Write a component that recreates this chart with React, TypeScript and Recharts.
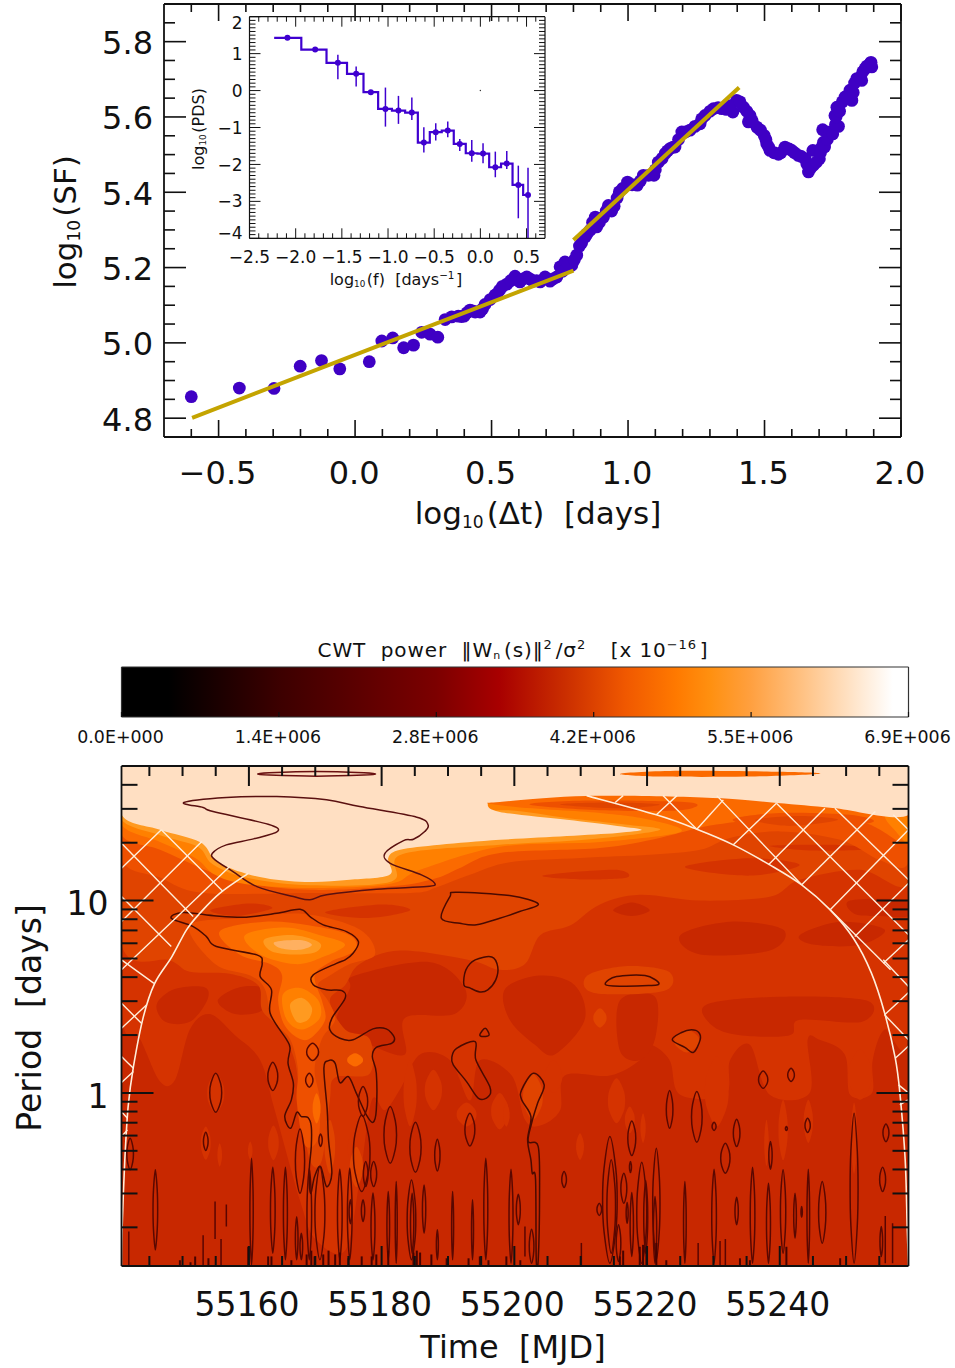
import { ScatterChart, Scatter, XAxis, YAxis, ComposedChart, Line, ErrorBar, ReferenceDot, BarChart, Bar } from 'recharts';

const FONT = '"DejaVu Sans", sans-serif';
const INK = '#111';

// structure function (top panel)
const SF_X = [-0.6, -0.424, -0.297, -0.201, -0.123, -0.056, 0.052, 0.098, 0.138, 0.178, 0.214, 0.244, 0.275, 0.303, 0.33, 0.354, 0.378, 0.399, 0.421, 0.44, 0.458, 0.476, 0.513, 0.529, 0.556, 0.586, 0.604, 0.629, 0.652, 0.678, 0.696, 0.714, 0.739, 0.751, 0.769, 0.794, 0.812, 0.822, 0.843, 0.861, 0.88, 0.885, 0.91, 0.928, 0.949, 0.968, 0.998, 1.034, 1.056, 1.095, 1.111, 1.136, 1.154, 1.172, 1.197, 1.227, 1.264, 1.282, 1.313, 1.343, 1.384, 1.398, 1.423, 1.447, 1.441, 1.472, 1.499, 1.508, 1.52, 1.551, 1.575, 1.6, 1.624, 1.649, 1.661, 1.679, 1.701, 1.677, 1.71, 1.716, 1.713, 1.74, 1.771, 1.758, 1.765, 1.795, 1.82, 1.813, 1.838, 1.856, 1.868, 1.887, 1.893];
const SF_Y = [4.857, 4.88, 4.879, 4.938, 4.953, 4.931, 4.95, 5.005, 5.013, 4.987, 4.994, 5.028, 5.023, 5.015, 5.062, 5.069, 5.071, 5.071, 5.087, 5.082, 5.082, 5.102, 5.127, 5.14, 5.156, 5.177, 5.162, 5.175, 5.164, 5.162, 5.175, 5.164, 5.175, 5.202, 5.215, 5.206, 5.233, 5.257, 5.281, 5.299, 5.334, 5.308, 5.334, 5.365, 5.363, 5.401, 5.427, 5.419, 5.445, 5.445, 5.48, 5.503, 5.516, 5.52, 5.56, 5.565, 5.582, 5.604, 5.622, 5.622, 5.613, 5.644, 5.626, 5.604, 5.587, 5.573, 5.551, 5.529, 5.511, 5.501, 5.52, 5.511, 5.498, 5.489, 5.454, 5.472, 5.489, 5.511, 5.52, 5.533, 5.566, 5.56, 5.575, 5.604, 5.626, 5.653, 5.644, 5.671, 5.702, 5.697, 5.728, 5.742, 5.733];
// denser part of the same ribbon
const SF_DENSE_X = [0.39, 0.41, 0.43, 0.45, 0.467, 0.495, 0.52, 0.54, 0.57, 0.615, 0.64, 0.665, 0.725, 0.76, 0.78, 0.803, 0.83, 0.85, 0.87, 0.895, 0.92, 0.94, 0.96, 0.98, 1.015, 1.045, 1.075, 1.1, 1.125, 1.145, 1.165, 1.185, 1.21, 1.245, 1.27, 1.3, 1.33, 1.36, 1.375, 1.41, 1.435, 1.455, 1.485, 1.505, 1.515, 1.535, 1.56, 1.59, 1.61, 1.635, 1.655, 1.67, 1.69, 1.705, 1.72, 1.73, 1.75, 1.76, 1.762, 1.775, 1.785, 1.805, 1.825, 1.83, 1.85, 1.86, 1.875, 1.885, 1.89];
const SF_DENSE_Y = [5.07, 5.08, 5.085, 5.083, 5.09, 5.115, 5.13, 5.15, 5.165, 5.17, 5.17, 5.165, 5.17, 5.19, 5.21, 5.22, 5.265, 5.29, 5.32, 5.32, 5.35, 5.35, 5.385, 5.41, 5.42, 5.43, 5.445, 5.46, 5.49, 5.51, 5.52, 5.54, 5.56, 5.575, 5.595, 5.615, 5.625, 5.62, 5.63, 5.64, 5.615, 5.59, 5.565, 5.54, 5.52, 5.505, 5.505, 5.515, 5.505, 5.495, 5.475, 5.465, 5.48, 5.505, 5.52, 5.54, 5.555, 5.58, 5.6, 5.615, 5.64, 5.65, 5.665, 5.69, 5.705, 5.72, 5.735, 5.735, 5.745];
const FIT_LOW = [[-0.597, 4.801], [0.8, 5.192]];
const FIT_HIGH = [[0.8, 5.273], [1.407, 5.678]];

// inset power spectrum
const PDS_X = [-2.233, -2.089, -1.789, -1.543, -1.345, -1.186, -1.028, -0.887, -0.742, -0.612, -0.483, -0.353, -0.223, -0.093, 0.029, 0.162, 0.286, 0.411, 0.516];
const PDS_Y = [1.428, 1.428, 1.111, 0.751, 0.453, -0.043, -0.496, -0.542, -0.596, -1.409, -1.127, -1.084, -1.444, -1.697, -1.707, -2.076, -1.978, -2.556, -2.827];
const PDS_ERR_DOWN = [0, 0, 0, 0.442, 0.345, 0, 0.48, 0.36, 0.198, 0.271, 0.228, 0.179, 0.19, 0.227, 0.26, 0.271, 0.144, 0.902, 1.173];
const PDS_ERR_UP = [0, 0, 0, 0.216, 0.197, 0, 0.577, 0.398, 0.406, 0.417, 0.244, 0.244, 0.135, 0.361, 0.281, 0.423, 0.344, 0.523, 0.74];

// colour bar
const BAR_TICKS = [0, 1.38, 2.76, 4.14, 5.52, 6.9];
const BAR_LABELS = ['0.0E+000', '1.4E+006', '2.8E+006', '4.2E+006', '5.5E+006', '6.9E+006'];
const BAR_STOPS: [number, string][] = [[0, '#000'], [0.06, '#000'], [0.2, '#3c0000'], [0.4, '#7c0000'], [0.48, '#a80000'], [0.567, '#cc3000'], [0.64, '#f05800'], [0.706, '#ff7a00'], [0.748, '#ff9010'], [0.8, '#ffa040'], [0.862, '#ffc080'], [0.948, '#ffeedd'], [0.98, '#fff'], [1, '#fff']];

// wavelet panel: t = MJD - 55100, l = log10(period)
const C0 = '#c82800';
const C1 = '#d53300';
const C2 = '#e04400';
const C3 = '#ee5000';
const C4 = '#fb6a00';
const C5 = '#ff8000';
const C6 = '#ff9a20';
const C7 = '#ffb060';
const PALE = '#ffdfc2';

type Pt = number[];
const FLOOR: Pt[] = [[40.8, -0.9], [159.4, -0.9], [159.4, 1.7], [40.8, 1.7]];
const BODY_C1: Pt[] = [[40.8, 1.6], [159.4, 1.6], [159.4, 0.3], [155.8, 0.33], [154, 0.17], [153.9, 0], [150.6, -0.01], [149.8, 0.2], [146, 0.276], [144.2, 0.276], [144.5, 0], [138.5, -0.01], [135.5, 0.25], [132.5, 0.17], [131.8, -0.01], [125, -0.01], [123.4, 0.17], [120.4, 0.25], [118.9, 0.17], [114.4, 0.09], [107.6, 0.09], [106.9, -0.09], [103.9, -0.17], [101.6, -0.14], [99.6, 0.09], [94.8, 0.17], [93.3, -0.04], [90.3, 0.17], [85.8, 0.2], [82.8, 0.02], [80.5, -0.09], [78.5, -0.04], [76.7, -0.45], [74.5, -0.82], [70, -0.76], [67.7, -0.56], [63.9, -0.09], [61.7, 0.17], [57.9, 0.3], [54.1, 0.41], [51.1, 0.33], [48.9, 0.07], [46.6, 0.06], [43.6, 0.28], [40.8, 0.43]];
const DEEP_BLOBS: Pt[][] = [
  [[46.1, 0.46], [48.8, 0.54], [53.3, 0.55], [53.7, 0.48], [51.1, 0.37], [47.4, 0.37]],
  [[55.3, 0.48], [58.6, 0.55], [62.4, 0.54], [62, 0.43], [57.9, 0.41]],
  [[76, 0.61], [87.3, 0.68], [92.6, 0.54], [91, 0.41], [83.5, 0.39], [83.5, 0.2], [78.2, 0.25], [73, 0.33], [75.2, 0.54]],
  [[98.6, 0.54], [103.9, 0.61], [109.1, 0.56], [110.6, 0.38], [106.1, 0.2], [103.1, 0.25], [99.3, 0.38]],
  [[115.9, 0.48], [121.2, 0.5], [121.2, 0.28], [118.9, 0.17], [115.9, 0.22]],
  [[129, 0.46], [140, 0.5], [153.1, 0.48], [152.4, 0.37], [143, 0.38], [141.5, 0.3], [134, 0.3], [129.8, 0.35]],
];
const BODY_C2: Pt[] = [[40.8, 1.6], [159.4, 1.6], [159.4, 1.09], [152.1, 1.16], [143, 1.108], [138.5, 1.02], [128, 1.0], [118.9, 1.03], [112.9, 0.98], [108.4, 0.87], [103.9, 0.82], [101.6, 0.67], [97.8, 0.64], [93.3, 0.69], [82.8, 0.74], [76.7, 0.67], [74.5, 0.56], [72.2, 0.48], [74.5, 0.33], [78.2, 0.28], [78.2, 0.1], [73, 0.08], [72.2, -0.04], [71, -0.35], [69.2, -0.35], [67.7, -0.04], [66.9, 0.17], [64.7, 0.33], [62, 0.43], [61.4, 0.56], [57.1, 0.62], [51.1, 0.63], [48.1, 0.69], [40.8, 0.77]];
const MID_BLOBS: Pt[][] = [
  [[114.9, 0.95], [117.7, 0.99], [120.4, 0.95], [117.7, 0.92]],
  [[125, 0.82], [132.5, 0.89], [140.5, 0.85], [138.5, 0.74], [128, 0.72]],
  [[143, 0.82], [149.1, 0.89], [155.8, 0.85], [152.1, 0.77], [145.3, 0.77]],
  [[150.6, 1.0], [158.9, 1.0], [159.4, 0.92], [155.1, 0.92], [151.3, 0.93]],
  [[125.7, 1.175], [135.5, 1.22], [143, 1.185], [135.5, 1.13]],
  [[104.3, 1.13], [115, 1.16], [117, 1.12], [110, 1.11]],
  [[71.5, 0.94], [80, 0.98], [84.3, 0.95], [78, 0.91]],
  [[54.2, 0.95], [60, 0.985], [63.5, 0.96], [58, 0.92]],
  [[138.5, 1.285], [147.8, 1.29], [155, 1.27], [145, 1.26]],
];
const PATCHES_C2: Pt[][] = [
  [[111, 0.61], [117, 0.66], [123.3, 0.63], [122.5, 0.53], [112, 0.52]],
];
const BODY_C3: Pt[] = [[40.8, 1.6], [159.4, 1.6], [159.4, 1.2], [155.1, 1.21], [149.1, 1.316], [140, 1.36], [132.5, 1.326], [128, 1.264], [120.4, 1.238], [109.9, 1.222], [99.3, 1.2], [93.3, 1.134], [88.3, 1.07], [84.3, 1.04], [69.2, 1.04], [53.1, 1.04], [46.6, 1.12], [40.8, 1.215]];
const BODY_C4: Pt[] = [[40.8, 1.6], [159.4, 1.6], [159.4, 1.3], [152.1, 1.41], [138.5, 1.42], [129.5, 1.39], [121.9, 1.326], [112.9, 1.274], [97.8, 1.248], [91.8, 1.17], [88.3, 1.118], [82, 1.076], [69.2, 1.056], [58.6, 1.097], [53.4, 1.16], [46.6, 1.264], [40.8, 1.342]];
const BODY_C5: Pt[] = [[40.8, 1.6], [85, 1.6], [97, 1.5], [112.9, 1.456], [120.4, 1.42], [125, 1.357], [112.9, 1.305], [97.8, 1.28], [85.8, 1.16], [81.2, 1.087], [69.2, 1.066], [59.4, 1.087], [54.9, 1.134], [51.9, 1.222], [46.6, 1.305], [40.8, 1.394]];
const CORNER_C5: Pt[] = [[155.9, 1.44], [159.4, 1.43], [159.4, 1.3], [157.5, 1.36]];
const BODY_C6: Pt[] = [[40.8, 1.6], [90, 1.6], [90, 1.4], [97.8, 1.47], [107.9, 1.43], [117, 1.395], [122, 1.37], [116, 1.335], [107.9, 1.31], [97.8, 1.29], [83, 1.24], [81.5, 1.1], [69.2, 1.08], [59.5, 1.12], [54.5, 1.19], [52.3, 1.28], [46.6, 1.34], [40.8, 1.42]];
const BAND_C3: Pt[][] = [
  [[102.3, 1.5], [111.4, 1.52], [126.5, 1.51], [125, 1.47], [112.9, 1.47]],
  [[132.9, 1.42], [140, 1.456], [150.6, 1.446], [153.6, 1.404], [140, 1.368]],
];
const BAND_C2: Pt[][] = [
  [[106.9, 1.5], [114.4, 1.51], [121.9, 1.5], [115.9, 1.48]],
  [[136.3, 1.42], [143, 1.44], [148.8, 1.42], [141.5, 1.388]],
];
const PLUME_C3: Pt[] = [[51.1, 0.87], [59.4, 0.91], [68.4, 0.93], [76.7, 0.85], [79, 0.72], [75.2, 0.67], [72.2, 0.61], [70.4, 0.56], [71.9, 0.48], [73, 0.38], [71, 0.28], [69.9, 0.12], [70.7, -0.04], [70.4, -0.24], [68.4, -0.27], [67.2, -0.04], [67.4, 0.12], [66.2, 0.28], [63.5, 0.38], [62.4, 0.54], [60.2, 0.61], [54.9, 0.67]];
const PLUME_C4: Pt[] = [[55.6, 0.84], [62.4, 0.89], [69.2, 0.87], [75.2, 0.82], [76, 0.74], [72.2, 0.68], [69.9, 0.61], [71, 0.48], [71.5, 0.38], [69.5, 0.29], [67.7, 0.28], [65.4, 0.35], [64.4, 0.48], [65, 0.61], [63.2, 0.67], [58.6, 0.72]];
const PLUME_C5: Pt[] = [[59.4, 0.82], [65.4, 0.86], [70.7, 0.82], [74.5, 0.77], [70.7, 0.7], [66.9, 0.67], [61.7, 0.72]];
const PLUME_C6: Pt[] = [[62.4, 0.8], [66.9, 0.82], [70.7, 0.78], [69.9, 0.73], [66.2, 0.72], [63.2, 0.74]];
const PLUME_C7: Pt[] = [[63.9, 0.785], [67.7, 0.795], [69.5, 0.77], [67.7, 0.744], [64.7, 0.754]];
const SPOT_C5: Pt[] = [[65.1, 0.51], [67.7, 0.546], [70.4, 0.484], [70.7, 0.39], [68, 0.33], [65.7, 0.38]];
const SPOT_C6: Pt[] = [[66.2, 0.458], [68, 0.494], [69.5, 0.442], [68.9, 0.38], [67.2, 0.37]];
const PALE_TOP: Pt[] = [[40.8, 1.7], [159.4, 1.7], [159.4, 1.445], [148, 1.482], [139.6, 1.508], [129.9, 1.534], [110.9, 1.544], [97.8, 1.513], [96, 1.503], [97.8, 1.461], [107.9, 1.42], [115.5, 1.388], [119.2, 1.368], [115.5, 1.352], [107.9, 1.336], [97.8, 1.316], [88.8, 1.29], [82.8, 1.264], [81, 1.222], [81.2, 1.134], [75.2, 1.108], [69.2, 1.097], [63.2, 1.113], [59.7, 1.139], [56.4, 1.18], [54.6, 1.222], [52.6, 1.305], [46.6, 1.368], [40.8, 1.446]];
const TOP_SLIVER: Pt[] = [[116, 1.66], [125, 1.675], [140, 1.67], [146, 1.66], [135, 1.645], [122, 1.645]];

// narrow vertical features: [t, low l, high l, half width in days]
const LOBES_C1 = [[55, -0.106, 0.102, 1.3], [53.5, -0.348, -0.175, 0.75], [55.6, -0.383, -0.262, 0.35], [60.2, -0.348, -0.253, 0.35], [63.7, -0.35, -0.17, 0.8], [75.7, -0.38, -0.2, 0.8], [84.3, -0.175, 0.17, 1], [87.8, -0.09, 0.12, 1.3], [92.8, -0.175, -0.05, 1.5], [97.8, -0.19, 0, 1.3], [109.9, -0.348, -0.21, 0.6], [115.4, -0.158, 0.076, 1.3], [117.4, -0.21, -0.07, 0.75], [119.4, -0.26, -0.106, 0.4], [105.9, 0, 0.17, 1.3], [98.8, -0.175, -0.054, 0.5], [130.5, -0.175, 0.19, 1.8], [138, -0.38, -0.14, 0.35], [140.5, -0.35, -0.036, 0.7], [144.3, -0.26, -0.036, 0.7], [152.1, -0.036, 0.224, 1.8], [151.2, -0.42, -0.05, 0.5]];
const LOBES_C2 = [[76.2, -0.49, -0.28, 1], [72.2, -0.42, -0.14, 0.8], [112.9, 0.34, 0.44, 1], [126, 0.21, 0.33, 1.9], [102.8, -0.14, 0.1, 1.5]];
const LOBES_C3 = [[70.2, -0.159, -0.002, 0.6], [76, 0.137, 0.206, 1.2]];
const CONTOUR_LOOPS = [[69.6, 0.168, 0.258, 0.9], [69.1, 0.03, 0.102, 0.55], [55, -0.101, 0.102, 0.9], [53.5, -0.3, -0.205, 0.35], [42.1, -0.4, -0.236, 0.5], [45.9, -0.816, -0.4, 0.35], [63.6, 0.012, 0.159, 0.75], [70.8, -0.279, -0.213, 0.25], [67.7, -0.522, -0.187, 0.7], [77.2, -0.123, 0.033, 0.7], [77, -0.513, -0.115, 1.25], [77.6, -0.487, -0.357, 0.35], [78.8, -0.487, -0.357, 0.45], [81.3, -0.366, -0.071, 0.95], [85.1, -0.413, -0.153, 0.85], [88.4, -0.406, -0.241, 0.4], [93.3, -0.276, -0.106, 0.75], [60.4, -0.894, -0.34, 0.25], [63.6, -0.834, -0.387, 0.35], [65.5, -0.868, -0.387, 0.3], [67.2, -0.868, -0.644, 0.2], [67.9, -0.868, -0.73, 0.2], [69.1, -0.868, -0.392, 0.35], [70.7, -0.868, -0.383, 0.75], [73.7, -0.868, -0.397, 0.35], [75.2, -0.868, -0.392, 0.35], [75.3, -0.68, -0.556, 0.2], [77.2, -0.669, -0.556, 0.25], [78.7, -0.868, -0.52, 0.3], [81, -0.868, -0.513, 0.2], [82.2, -0.886, -0.461, 0.15], [84.5, -0.868, -0.453, 0.65], [84.6, -0.834, -0.522, 0.25], [86.4, -0.73, -0.479, 0.25], [88.4, -0.868, -0.711, 0.15], [90.7, -0.868, -0.513, 0.15], [93.7, -0.868, -0.556, 0.15], [95.7, -0.868, -0.34, 0.3], [99.5, -0.886, -0.397, 0.3], [100.6, -0.686, -0.527, 0.3], [102.6, -0.886, -0.709, 0.35], [107.5, -0.492, -0.409, 0.35], [112.8, -0.638, -0.574, 0.35], [117.7, -0.326, -0.146, 0.6], [117.5, -0.414, -0.357, 0.15], [114.4, -0.886, -0.227, 1.1], [114.6, -0.834, -0.348, 0.65], [116.5, -0.574, -0.418, 0.45], [115.7, -0.877, -0.686, 0.35], [117, -0.678, -0.57, 0.15], [117.7, -0.851, -0.518, 0.25], [119.2, -0.886, -0.361, 0.75], [119.8, -0.834, -0.456, 0.3], [121.4, -0.868, -0.288, 0.55], [121.2, -0.886, -0.539, 0.25], [123.4, -0.184, 0.012, 0.5], [127.5, -0.257, 0.007, 0.8], [125.7, -0.886, -0.461, 0.2], [130.1, -0.196, -0.153, 0.3], [130.1, -0.886, -0.397, 0.35], [131.8, -0.418, -0.262, 0.7], [133.5, -0.279, -0.137, 0.5], [133.5, -0.686, -0.543, 0.25], [135.9, -0.886, -0.387, 0.35], [137.5, 0.024, 0.114, 0.7], [138.3, -0.886, -0.47, 0.3], [138.6, -0.397, -0.253, 0.25], [140.5, -0.834, -0.4, 0.4], [141.7, 0.059, 0.128, 0.5], [141, -0.196, -0.175, 0.15], [142.3, -0.756, -0.522, 0.2], [143.3, -0.647, -0.591, 0.1], [144.2, -0.206, -0.132, 0.4], [144.3, -0.886, -0.397, 0.2], [146.4, -0.782, -0.461, 0.55], [151.2, -0.886, -0.106, 0.6], [156, -0.253, -0.161, 0.45], [155.5, -0.513, -0.387, 0.45], [155.3, -0.851, -0.695, 0.2]];
const CONTOUR_TOP_SLIVER = [70.2, 1.647, 1.671, 8.9];

const CONTOUR_MAIN: Pt[] = [[50.2, 1.51], [56.6, 1.536], [64.2, 1.541], [71.7, 1.524], [76.7, 1.489], [85.3, 1.434], [87, 1.394], [86.5, 1.359], [84.8, 1.319], [83.3, 1.312], [80.5, 1.246], [81.3, 1.194], [86, 1.134], [88, 1.09], [86.8, 1.073], [79.2, 1.059], [71.7, 1.03], [69.2, 1.004], [66.7, 1.021], [61.2, 1.073], [57.6, 1.151], [54.9, 1.212], [54.5, 1.246], [56.6, 1.29], [60.7, 1.321], [64.3, 1.359], [62.9, 1.397], [54.6, 1.463], [53.1, 1.484]];
const CONTOUR_PLUME: Pt[] = [[48.3, 0.908], [50.1, 0.938], [55.1, 0.92], [59.6, 0.914], [64.2, 0.934], [67.7, 0.955], [69.2, 0.917], [71.2, 0.874], [74.7, 0.839], [76.5, 0.787], [75.7, 0.726], [74.5, 0.692], [73.2, 0.674], [69.7, 0.614], [69.7, 0.562], [71.7, 0.536], [74, 0.532], [74.5, 0.492], [72.5, 0.388], [72.2, 0.328], [73.7, 0.284], [75.7, 0.276], [78.7, 0.333], [80.7, 0.333], [81.9, 0.289], [81.5, 0.258], [79.2, 0.237], [78.6, 0.189], [79.2, 0.102], [79.2, -0.088], [78.7, -0.153], [77.7, -0.114], [76.2, -0.002], [75, 0.085], [73.7, 0.054], [73, 0.154], [72, 0.168], [71.3, 0.128], [71.8, -0.088], [72, -0.244], [72.5, -0.418], [71.7, -0.487], [70.8, -0.383], [69.9, -0.435], [69.3, -0.522], [69.1, -0.4], [69.4, -0.279], [69.4, -0.175], [68.9, -0.128], [67.9, -0.123], [67.2, -0.102], [66.3, -0.184], [65.4, -0.123], [66.4, -0.036], [66.7, 0.05], [65.9, 0.154], [66.2, 0.232], [65.7, 0.276], [63.2, 0.414], [63.4, 0.536], [61.7, 0.605], [62, 0.674], [61.2, 0.718], [55.1, 0.761], [53.6, 0.813], [51.6, 0.865]];
const CONTOUR_SHAPES: Pt[][] = [
  [[89, 0.908], [90.3, 1.021], [91.3, 1.043], [99.3, 1.026], [103.6, 0.983], [100.8, 0.943], [97.8, 0.908], [94.3, 0.874], [91.8, 0.882]],
  [[92.4, 0.562], [92.7, 0.64], [94.1, 0.692], [96.6, 0.707], [97.5, 0.655], [97.2, 0.588], [96, 0.536], [94.8, 0.525], [93.3, 0.546]],
  [[113.7, 0.57], [115.4, 0.605], [119.7, 0.61], [121.8, 0.57], [120.2, 0.558], [114.9, 0.556]],
  [[123.8, 0.276], [125.2, 0.314], [126.7, 0.328], [127.8, 0.314], [128, 0.276], [127, 0.211], [125.7, 0.237]],
  [[94.8, 0.302], [95.6, 0.336], [96.2, 0.302], [95.3, 0.293]],
  [[90.6, 0.189], [91.3, 0.232], [94.1, 0.267], [94.2, 0.172], [96.3, 0.033], [96.1, -0.019], [94.6, -0.028], [92.8, 0.059], [90.8, 0.146]],
  [[102.85, 0.102], [104.5, 0.042], [103.5, -0.054], [102.6, -0.158], [102.1, -0.253], [103.6, -0.279], [103.8, -0.522], [103.6, -0.868], [103.3, -0.868], [103.2, -0.452], [102.7, -0.418], [102.5, -0.348], [102, -0.244], [102.5, -0.123], [101.1, -0.036], [101.1, 0.016]],
];

// thin single-line spikes: [t, low l, high l]
const THIN_SPIKES = [[54.9, -0.76, -0.565], [56.6, -0.695, -0.58], [53.1, -0.9, -0.74], [55.8, -0.9, -0.76], [41.9, -0.9, -0.72], [155.9, -0.886, -0.64], [157, -0.886, -0.678], [127.7, -0.9, -0.78], [131, -0.9, -0.77], [131.8, -0.9, -0.76], [101.6, -0.85, -0.695], [110.1, -0.9, -0.78]];
const STUB_T = [49.6, 51.2, 51.9, 53.9, 59.9, 62.9, 63.4, 66.4, 68.7, 69.4, 69.9, 71.2, 72, 73, 73.7, 75, 77, 78.5, 79.2, 81, 84.8, 85.3, 85.8, 87.5, 89.8, 93.1, 94.8, 96.1, 98.8, 100.9, 115.9, 116.4, 118.9, 119.4, 119.9, 121.4, 122.9, 134, 135.5, 141, 149.1];
const STUB_TOP = [-0.87, -0.88, -0.85, -0.86, -0.8, -0.85, -0.85, -0.87, -0.84, -0.82, -0.85, -0.84, -0.82, -0.84, -0.83, -0.86, -0.85, -0.85, -0.84, -0.82, -0.83, -0.82, -0.83, -0.84, -0.86, -0.86, -0.85, -0.87, -0.85, -0.87, -0.85, -0.82, -0.8, -0.79, -0.8, -0.78, -0.87, -0.86, -0.87, -0.8, -0.86];

const COI_LEFT: Pt[] = [[59.9, 1.142], [55.6, 1.038], [52.6, 0.934], [50.6, 0.848], [48.4, 0.709], [45.8, 0.57], [44.1, 0.397], [42.6, 0.137], [41.8, -0.071], [41.3, -0.348], [40.9, -0.695], [40.8, -0.9]];
const COI_RIGHT: Pt[] = [[110.9, 1.546], [121.4, 1.446], [127.5, 1.371], [133, 1.29], [138.5, 1.186], [143.3, 1.082], [147.6, 0.952], [151.1, 0.804], [153.8, 0.624], [155.8, 0.416], [157.4, 0.182], [158.1, 0], [158.9, -0.348], [159.2, -0.695], [159.4, -0.9]];
// hatch strokes: [t1, l1, t2, l2]
const HATCH = [[115.2, 1.51, 116.4, 1.546], [121.4, 1.446, 124.5, 1.546], [122.4, 1.546, 127.5, 1.371], [127.5, 1.371, 131.5, 1.524], [130.5, 1.546, 143.3, 1.082], [133, 1.29, 139.5, 1.506], [139.5, 1.506, 159.4, 0.822], [138.3, 1.186, 146.8, 1.48], [148.3, 1.48, 159.4, 1.108], [143.3, 1.082, 154.4, 1.463], [157.1, 1.446, 159.4, 1.368], [147.6, 0.952, 159.4, 1.368], [147.6, 0.952, 156.7, 0.64], [151.3, 0.813, 159.4, 1.09], [155.6, 0.674, 159.4, 0.796], [155.6, 0.692, 159.4, 0.553], [155.8, 0.406, 159.4, 0.522], [155.8, 0.406, 159.4, 0.276], [157.4, 0.18, 159.4, 0.244], [157.9, 0.042, 159.4, 0], [158.1, -0.062, 159.3, -0.036], [40.8, 1.168, 46.8, 1.368], [40.8, 1.298, 51.6, 0.917], [46.8, 1.368, 56.1, 1.047], [40.8, 0.891, 52.9, 1.307], [40.8, 0.64, 57.1, 1.177], [40.8, 1.021, 48.3, 0.761], [40.8, 0.692, 45.7, 0.57], [40.8, 0.466, 43.8, 0.362], [40.8, 0.336, 44.6, 0.458], [40.8, 0.189, 42.6, 0.128], [40.8, 0.054, 42.6, 0.111], [40.8, -0.097, 41.7, -0.132], [40.8, -0.227, 41.7, -0.192]];

const PERIOD_TICKS = [0.2, 0.3, 0.4, 0.5, 0.6, 0.7, 0.8, 0.9, 1, 2, 3, 4, 5, 6, 7, 8, 9, 10, 20, 30, 40];

const toPoints = (rows: number[][]) => rows.map(([x, y]) => ({ x, y }));
const spindle = ([t, low, high, hw]: number[]) => {
  const mid = (low + high) / 2;
  const q = (high - low) / 4;
  return [[t, high], [t + hw * 0.8, mid + q], [t + hw, mid], [t + hw * 0.8, mid - q], [t, low], [t - hw * 0.8, mid - q], [t - hw, mid], [t - hw * 0.8, mid + q]];
};
const range = (from: number, to: number, step: number) => {
  const out: number[] = [];
  for (let i = 0; from + i * step <= to + 1e-9; i++) out.push(Number((from + i * step).toFixed(4)));
  return out;
};
const isMultiple = (v: number, m: number) => Math.abs(v / m - Math.round(v / m)) < 1e-6;
const minus = (s: string) => s.replace('-', '\u2212');

function closedPath(pts: { x: number; y: number }[]) {
  const n = pts.length;
  const at = (i: number) => pts[(i + n) % n];
  let d = `M${at(0).x},${at(0).y}`;
  for (let i = 0; i < n; i++) {
    const p0 = at(i - 1), p1 = at(i), p2 = at(i + 1), p3 = at(i + 2);
    d += `C${p1.x + (p2.x - p0.x) / 6},${p1.y + (p2.y - p0.y) / 6} ${p2.x - (p3.x - p1.x) / 6},${p2.y - (p3.y - p1.y) / 6} ${p2.x},${p2.y}`;
  }
  return d + 'Z';
}
function openPath(pts: { x: number; y: number }[]) {
  const n = pts.length;
  const at = (i: number) => pts[Math.max(0, Math.min(n - 1, i))];
  let d = `M${at(0).x},${at(0).y}`;
  for (let i = 0; i < n - 1; i++) {
    const p0 = at(i - 1), p1 = at(i), p2 = at(i + 1), p3 = at(i + 2);
    d += `C${p1.x + (p2.x - p0.x) / 6},${p1.y + (p2.y - p0.y) / 6} ${p2.x - (p3.x - p1.x) / 6},${p2.y - (p3.y - p1.y) / 6} ${p2.x},${p2.y}`;
  }
  return d;
}

const Blank = () => null;
const fillLine = (fill: string) => (p: any) => <path d={closedPath(p.points)} fill={fill} stroke="none" />;
const outlineLine = (stroke: string, width = 1.5) => (p: any) => <path d={closedPath(p.points)} fill="none" stroke={stroke} strokeWidth={width} />;
const openLine = (stroke: string, width: number) => (p: any) => (
  <path d={openPath(p.points)} fill="none" stroke={stroke} strokeWidth={width} />
);

type TickOpts = {
  side: 'top' | 'bottom' | 'left' | 'right';
  len: (v: number) => number;
  label?: (v: number) => string | null;
  gap?: number;
  size?: number;
  width?: number;
  shift?: (v: number) => number;
  nudge?: number;
};
const axisTick = ({ side, len, label, gap = 0, size = 32, width = 1.6, shift, nudge = 0 }: TickOpts) => (p: any) => {
  const { x, y, payload } = p;
  const v = payload.value;
  const l = len(v);
  const line = side === 'bottom' ? [x, y, x, y - l] : side === 'top' ? [x, y, x, y + l] : side === 'left' ? [x, y, x + l, y] : [x, y, x - l, y];
  const text = label ? label(v) : null;
  return (
    <g>
      <line x1={line[0]} y1={line[1]} x2={line[2]} y2={line[3]} stroke={INK} strokeWidth={width} />
      {text && side === 'bottom' && (
        <text x={x + nudge} y={y + gap} textAnchor="middle" fontSize={size} fontFamily={FONT} fill={INK}>{text}</text>
      )}
      {text && side === 'left' && (
        <text x={x - gap} y={y + size * 0.36 + nudge + (shift ? shift(v) : 0)} textAnchor="end" fontSize={size} fontFamily={FONT} fill={INK}>{text}</text>
      )}
    </g>
  );
};
const axisLineStyle = { stroke: INK, strokeWidth: 1.8 };

function StructurePanel() {
  const pts = [...SF_X.map((x, i) => ({ x, y: SF_Y[i] })), ...SF_DENSE_X.map((x, i) => ({ x, y: SF_DENSE_Y[i] }))];
  const xTicks = range(-0.6, 2, 0.1);
  const yTicks = range(4.8, 5.85, 0.05);
  const xLen = (v: number) => (isMultiple(v, 0.5) ? 17 : 8);
  const yLen = (v: number) => (isMultiple(v, 0.2) ? 22 : 11);
  return (
    <div style={{ position: 'absolute', left: 0, top: 0 }}>
      <ScatterChart width={955} height={540} margin={{ left: 163, right: 53, top: 3, bottom: 102 }}>
        <XAxis xAxisId="b" type="number" dataKey="x" domain={[-0.7, 2]} ticks={xTicks} interval={0} height={1} tickSize={0} tickMargin={0} tickLine={false} axisLine={axisLineStyle} allowDataOverflow
          tick={axisTick({ side: 'bottom', len: xLen, gap: 47, nudge: -1, label: (v) => (isMultiple(v, 0.5) ? minus(v.toFixed(1)) : null) })} />
        <XAxis xAxisId="t" orientation="top" type="number" dataKey="x" domain={[-0.7, 2]} ticks={xTicks} interval={0} height={1} tickSize={0} tickMargin={0} tickLine={false} axisLine={axisLineStyle} allowDataOverflow
          tick={axisTick({ side: 'top', len: xLen })} />
        <YAxis yAxisId="l" type="number" dataKey="y" domain={[4.75, 5.9]} ticks={yTicks} interval={0} width={1} tickSize={0} tickMargin={0} tickLine={false} axisLine={axisLineStyle} allowDataOverflow
          tick={axisTick({ side: 'left', len: yLen, gap: 11, nudge: 1, label: (v) => (isMultiple(v, 0.2) ? v.toFixed(1) : null) })} />
        <YAxis yAxisId="r" orientation="right" type="number" dataKey="y" domain={[4.75, 5.9]} ticks={yTicks} interval={0} width={1} tickSize={0} tickMargin={0} tickLine={false} axisLine={axisLineStyle} allowDataOverflow
          tick={axisTick({ side: 'right', len: yLen })} />
        <Scatter xAxisId="b" yAxisId="l" data={pts} isAnimationActive={false} shape={(p: any) => <circle cx={p.cx} cy={p.cy} r={6.4} fill="#3f00c4" />} />
        <Scatter xAxisId="b" yAxisId="l" data={toPoints(FIT_LOW)} isAnimationActive={false} shape={Blank} line={openLine('#c4a400', 4)} />
        <Scatter xAxisId="b" yAxisId="l" data={toPoints(FIT_HIGH)} isAnimationActive={false} shape={Blank} line={openLine('#c4a400', 4)} />
      </ScatterChart>
    </div>
  );
}

function PdsInset() {
  const rows = PDS_X.map((x, i) => ({
    x,
    level: PDS_Y[i],
    point: i === 0 ? null : PDS_Y[i],
    err: i === 0 ? null : [PDS_ERR_DOWN[i], PDS_ERR_UP[i]],
  }));
  const xTicks = range(-2.4, 0.6, 0.1);
  const xMajors = range(-2.5, 0.5, 0.5);
  const yTicks = range(-3.9, 1.9, 0.1);
  const xLen = (v: number) => (isMultiple(v, 0.5) ? 10 : 5);
  const yLen = (v: number) => (isMultiple(v, 1) ? 11 : 6);
  const common = { tickSize: 0, tickMargin: 0, tickLine: false, axisLine: { stroke: INK, strokeWidth: 1.2 }, allowDataOverflow: true, interval: 0 as const };
  return (
    <div style={{ position: 'absolute', left: 0, top: 0 }}>
      <ComposedChart width={620} height={300} data={rows} margin={{ left: 248.5, right: 74, top: 15.7, bottom: 60.7 }}>
        <XAxis xAxisId="b" type="number" dataKey="x" domain={[-2.5, 0.7]} ticks={[-2.5, ...xTicks]} height={1} {...common}
          tick={axisTick({ side: 'bottom', len: xLen, gap: 25, size: 17, width: 1, label: (v) => (xMajors.includes(v) ? minus(v.toFixed(1)) : null) })} />
        <XAxis xAxisId="t" orientation="top" type="number" dataKey="x" domain={[-2.5, 0.7]} ticks={xTicks} height={1} {...common}
          tick={axisTick({ side: 'top', len: xLen, width: 1 })} />
        <YAxis yAxisId="l" type="number" domain={[-4, 2]} ticks={[-4, ...yTicks, 2]} width={1} {...common}
          tick={axisTick({ side: 'left', len: yLen, gap: 7, size: 17, width: 1, shift: (v) => (v === 2 ? 6 : v === -4 ? -5 : 0), label: (v) => (isMultiple(v, 1) ? minus(String(Math.round(v))) : null) })} />
        <YAxis yAxisId="r" orientation="right" type="number" domain={[-4, 2]} ticks={yTicks} width={1} {...common}
          tick={axisTick({ side: 'right', len: yLen, width: 1 })} />
        <Line xAxisId="b" yAxisId="l" type="step" dataKey="level" stroke="#3f00d0" strokeWidth={2.2} dot={false} isAnimationActive={false} />
        <Line xAxisId="b" yAxisId="l" dataKey="point" stroke="none" isAnimationActive={false} dot={{ r: 3, fill: '#3f00d0', stroke: 'none' }}>
          <ErrorBar dataKey="err" width={0} stroke="#3f00d0" strokeWidth={1.5} direction="y" isAnimationActive={false} />
        </Line>
        <ReferenceDot xAxisId="b" yAxisId="l" x={0} y={0} r={0.7} fill="#333" stroke="none" />
      </ComposedChart>
    </div>
  );
}

function ColorBar() {
  const len = () => 5;
  const frame = { stroke: '#333', strokeWidth: 1.2 };
  return (
    <div style={{ position: 'absolute', left: 0, top: 0 }}>
      <BarChart width={955} height={760} layout="vertical" data={[{ name: 'power', value: 6.9 }]} barCategoryGap={0} margin={{ left: 120.5, right: 45.5, top: 666, bottom: 42 }}>
        <XAxis xAxisId="b" type="number" domain={[0, 6.9]} ticks={BAR_TICKS} interval={0} height={1} tickSize={0} tickMargin={0} tickLine={false} axisLine={frame}
          tick={axisTick({ side: 'bottom', len, gap: 26, size: 17.4, width: 1.2, nudge: -1, label: (v) => BAR_LABELS[BAR_TICKS.indexOf(v)] })} />
        <XAxis xAxisId="t" orientation="top" type="number" domain={[0, 6.9]} ticks={BAR_TICKS} interval={0} height={1} tickSize={0} tickMargin={0} tickLine={false} axisLine={frame}
          tick={axisTick({ side: 'top', len, width: 1.2 })} />
        <YAxis type="category" dataKey="name" width={1} tick={false} tickLine={false} axisLine={frame} />
        <YAxis yAxisId="r" orientation="right" type="category" dataKey="name" width={1} tick={false} tickLine={false} axisLine={frame} />
        <Bar xAxisId="b" dataKey="value" fill="url(#powerRamp)" isAnimationActive={false} />
      </BarChart>
    </div>
  );
}

const WAVE_MARGIN = { left: 121.5, right: 46.5, top: 766, bottom: 102 };
const T_DOMAIN = [40.8, 159.4];
const L_DOMAIN = [-0.9, 1.7];

function WaveletPanel() {
  const poly = (rows: number[][], fill: string, key: string) => (
    <Scatter key={key} data={toPoints(rows)} isAnimationActive={false} shape={Blank} line={fillLine(fill)} />
  );
  const loop = (rows: number[][], key: string, stroke = '#5a0800', width = 1.5) => (
    <Scatter key={key} data={toPoints(rows)} isAnimationActive={false} shape={Blank} line={outlineLine(stroke, width)} />
  );
  const seg = (rows: number[][], key: string, stroke: string, width: number) => (
    <Scatter key={key} data={toPoints(rows)} isAnimationActive={false} shape={Blank} line={openLine(stroke, width)} />
  );
  return (
    <div style={{ position: 'absolute', left: 0, top: 0 }}>
      <ScatterChart width={955} height={1368} margin={WAVE_MARGIN}>
        <XAxis hide type="number" dataKey="x" domain={T_DOMAIN} allowDataOverflow />
        <YAxis hide type="number" dataKey="y" domain={L_DOMAIN} allowDataOverflow />
        {poly(FLOOR, C0, 'floor')}
        {poly(BODY_C1, C1, 'c1')}
        {LOBES_C1.map((r, i) => poly(spindle(r), C1, `lc1${i}`))}
        {DEEP_BLOBS.map((r, i) => poly(r, C0, `deep${i}`))}
        {poly(BODY_C2, C2, 'c2')}
        {PATCHES_C2.map((r, i) => poly(r, C2, `pc2${i}`))}
        {LOBES_C2.map((r, i) => poly(spindle(r), C2, `lc2${i}`))}
        {MID_BLOBS.map((r, i) => poly(r, i < 4 ? C0 : C1, `mid${i}`))}
        {poly(BODY_C3, C3, 'c3')}
        {poly(BODY_C4, C4, 'c4')}
        {BAND_C3.map((r, i) => poly(r, C3, `b3${i}`))}
        {BAND_C2.map((r, i) => poly(r, C2, `b2${i}`))}
        {poly(BODY_C5, C5, 'c5')}
        {poly(CORNER_C5, C5, 'c5b')}
        {poly(BODY_C6, C6, 'c6')}
        {poly(PLUME_C3, C3, 'p3')}
        {LOBES_C3.map((r, i) => poly(spindle(r), C4, `lc3${i}`))}
        {poly(PLUME_C4, C4, 'p4')}
        {poly(PLUME_C5, C5, 'p5')}
        {poly(PLUME_C6, C6, 'p6')}
        {poly(PLUME_C7, C7, 'p7')}
        {poly(SPOT_C5, C5, 's5')}
        {poly(SPOT_C6, C6, 's6')}
        {poly(PALE_TOP, PALE, 'pale')}
        {poly(TOP_SLIVER, C4, 'sliverfill')}
        {loop(CONTOUR_MAIN, 'cm', '#5a1010')}
        {loop(CONTOUR_PLUME, 'cp', '#4a0a00')}
        {CONTOUR_SHAPES.map((r, i) => loop(r, `cs${i}`, '#4a0a00'))}
        {CONTOUR_LOOPS.map((r, i) => loop(spindle(r), `cl${i}`))}
        {loop(spindle(CONTOUR_TOP_SLIVER), 'sliver', '#6a1010')}
        {THIN_SPIKES.map(([t, lo, hi], i) => seg([[t, lo], [t, hi]], `ts${i}`, '#5a0500', 1.5))}
        {STUB_T.map((t, i) => seg([[t, -0.9], [t, STUB_TOP[i]]], `st${i}`, '#460300', 2))}
        {seg(COI_LEFT, 'coiL', '#ffeeda', 1.6)}
        {seg(COI_RIGHT, 'coiR', '#ffeeda', 1.6)}
        {HATCH.map(([a, b, c, d], i) => seg([[a, b], [c, d]], `h${i}`, '#ffeeda', 1.4))}
      </ScatterChart>
    </div>
  );
}

function WaveletFrame() {
  const xTicks = range(45, 155, 5);
  const yTicks = PERIOD_TICKS.map((p) => Math.log10(p));
  const xLen = (v: number) => (isMultiple(v, 20) ? 20 : 10);
  const yLen = (v: number) => (isMultiple(v, 1) ? 32 : 16);
  const common = { tickSize: 0, tickMargin: 0, tickLine: false, axisLine: axisLineStyle, allowDataOverflow: true, interval: 0 as const };
  return (
    <div style={{ position: 'absolute', left: 0, top: 0 }}>
      <ScatterChart width={955} height={1368} margin={{ left: 120.5, right: 45.5, top: 765, bottom: 101 }}>
        <XAxis xAxisId="b" type="number" dataKey="x" domain={T_DOMAIN} ticks={xTicks} height={1} {...common}
          tick={axisTick({ side: 'bottom', len: xLen, gap: 49.5, size: 33, width: 2, nudge: -2, label: (v) => (isMultiple(v, 20) ? String(55100 + v) : null) })} />
        <XAxis xAxisId="t" orientation="top" type="number" dataKey="x" domain={T_DOMAIN} ticks={xTicks} height={1} {...common}
          tick={axisTick({ side: 'top', len: xLen, width: 2 })} />
        <YAxis yAxisId="l" type="number" dataKey="y" domain={L_DOMAIN} ticks={yTicks} width={1} {...common}
          tick={axisTick({ side: 'left', len: yLen, gap: 13, size: 33, width: 2, nudge: 3, label: (v) => (isMultiple(v, 1) ? String(Math.round(10 ** v)) : null) })} />
        <YAxis yAxisId="r" orientation="right" type="number" dataKey="y" domain={L_DOMAIN} ticks={yTicks} width={1} {...common}
          tick={axisTick({ side: 'right', len: yLen, width: 2 })} />
        <Scatter xAxisId="b" yAxisId="l" data={[]} isAnimationActive={false} shape={Blank} />
      </ScatterChart>
    </div>
  );
}

const Sub = ({ children, size }: { children: string; size: number }) => (
  <>
    <tspan fontSize={size * 0.55} dy={size * 0.12}>{children}</tspan>
    <tspan dy={-size * 0.12}>{'\u200a'}</tspan>
  </>
);
const Sup = ({ children, size }: { children: string; size: number }) => (
  <>
    <tspan fontSize={size * 0.65} dy={-size * 0.4}>{children}</tspan>
    <tspan dy={size * 0.4}>{'\u200a'}</tspan>
  </>
);

function Titles() {
  const t = { fontFamily: FONT, fill: INK, textAnchor: 'middle' as const, style: { whiteSpace: 'pre' as const } };
  return (
    <svg width={955} height={1368} style={{ position: 'absolute', left: 0, top: 0 }}>
      <defs>
        <linearGradient id="powerRamp" x1="0" x2="1" y1="0" y2="0">
          {BAR_STOPS.map(([o, c]) => <stop key={o} offset={o} stopColor={c} />)}
        </linearGradient>
      </defs>
      <text {...t} fontSize={31} transform="translate(76,222) rotate(-90)">log<Sub size={31}>10</Sub>(SF)</text>
      <text {...t} fontSize={31} x={538} y={524}>log<Sub size={31}>10</Sub>(Δt)  [days]</text>
      <text {...t} fontSize={16} transform="translate(204,129) rotate(-90)">log<Sub size={16}>10</Sub>(PDS)</text>
      <text {...t} fontSize={16} x={396} y={285}>log<Sub size={16}>10</Sub>(f)  [days<Sup size={16}>−1</Sup>]</text>
      <text {...t} fontSize={20} letterSpacing={0.9} x={513} y={657}>CWT  power  ‖W<Sub size={20}>n</Sub>(s)‖<Sup size={20}>2</Sup>/σ<Sup size={20}>2</Sup>   [x 10<Sup size={20}>−16</Sup>]</text>
      <text {...t} fontSize={33} transform="translate(41,1018) rotate(-90)">Period  [days]</text>
      <text {...t} fontSize={32} x={513} y={1358}>Time  [MJD]</text>
    </svg>
  );
}

export default function App() {
  return (
    <div style={{ position: 'absolute', left: 0, top: 0, width: 955, height: 1368, background: '#fff', overflow: 'hidden' }}>
      <Titles />
      <StructurePanel />
      <PdsInset />
      <ColorBar />
      <WaveletPanel />
      <WaveletFrame />
    </div>
  );
}
